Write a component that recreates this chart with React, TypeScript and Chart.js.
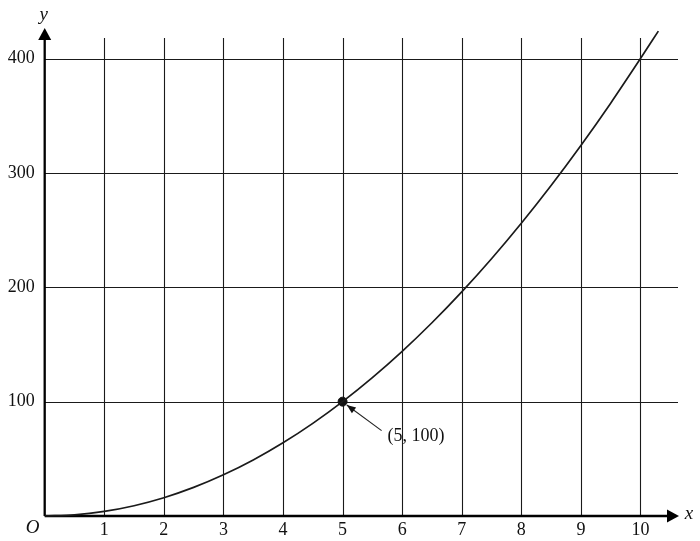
import React, { useRef, useEffect } from "react";
import { Chart, registerables, Plugin } from "chart.js";

Chart.register(...registerables);

// curve values
const curveX = [0, 0.5, 1, 1.5, 2, 2.5, 3, 3.5, 4, 4.5, 5, 5.5, 6, 6.5, 7, 7.5, 8, 8.5, 9, 9.5, 10, 10.3];
const curveY = [0, 1, 4, 9, 16, 25, 36, 49, 64, 81, 100, 121, 144, 169, 196, 225, 256, 289, 324, 361, 400, 424];

const xTicks = [1, 2, 3, 4, 5, 6, 7, 8, 9, 10];
const yTicks = [100, 200, 300, 400];

const markedPoint = { x: 5, y: 100 };
const markedLabel = "(5, 100)";

const FONT = "Liberation Serif, Times New Roman, serif";

const axesPlugin: Plugin<"line"> = {
  id: "axesPlugin",
  beforeDatasetsDraw(chart) {
    const { ctx, chartArea, scales } = chart;
    const xs = scales.x;
    const ys = scales.y;
    const x0 = xs.getPixelForValue(0);
    const y0 = ys.getPixelForValue(0);

    ctx.save();
    // grid
    ctx.strokeStyle = "#1a1a1a";
    ctx.lineWidth = 1.1;
    xTicks.forEach((v) => {
      const px = Math.round(xs.getPixelForValue(v)) + 0.5;
      ctx.beginPath();
      ctx.moveTo(px, y0);
      ctx.lineTo(px, chartArea.top);
      ctx.stroke();
    });
    yTicks.forEach((v) => {
      const py = Math.round(ys.getPixelForValue(v)) + 0.5;
      ctx.beginPath();
      ctx.moveTo(x0, py);
      ctx.lineTo(chartArea.right, py);
      ctx.stroke();
    });

    // axes
    ctx.strokeStyle = "#000";
    ctx.fillStyle = "#000";
    ctx.lineWidth = 2.3;
    ctx.beginPath();
    ctx.moveTo(x0, y0);
    ctx.lineTo(x0, chartArea.top - 2);
    ctx.moveTo(x0, y0);
    ctx.lineTo(chartArea.right - 8, y0);
    ctx.stroke();

    // arrow heads
    ctx.beginPath();
    ctx.moveTo(x0, chartArea.top - 10);
    ctx.lineTo(x0 - 6.5, chartArea.top + 2);
    ctx.lineTo(x0 + 6.5, chartArea.top + 2);
    ctx.closePath();
    ctx.fill();
    ctx.beginPath();
    ctx.moveTo(chartArea.right + 1, y0);
    ctx.lineTo(chartArea.right - 11, y0 - 6.5);
    ctx.lineTo(chartArea.right - 11, y0 + 6.5);
    ctx.closePath();
    ctx.fill();

    // tick labels
    ctx.fillStyle = "#111";
    ctx.font = `18px ${FONT}`;
    ctx.textBaseline = "middle";
    ctx.textAlign = "center";
    xTicks.forEach((v) => {
      ctx.fillText(String(v), xs.getPixelForValue(v), y0 + 14);
    });
    ctx.textAlign = "right";
    yTicks.forEach((v) => {
      ctx.fillText(String(v), x0 - 10, ys.getPixelForValue(v));
    });

    // axis names
    ctx.font = `italic 19px ${FONT}`;
    ctx.textAlign = "center";
    ctx.fillText("O", x0 - 12, y0 + 12);
    ctx.fillText("y", x0 - 1, chartArea.top - 23);
    ctx.fillText("x", chartArea.right + 11, y0 - 2);
    ctx.restore();
  },
  afterDatasetsDraw(chart) {
    const { ctx, scales } = chart;
    const px = scales.x.getPixelForValue(markedPoint.x);
    const py = scales.y.getPixelForValue(markedPoint.y);
    const sx = px + 39;
    const sy = py + 29;
    const ang = Math.atan2(py - sy, px - sx);
    const tipX = px + 4 * Math.cos(ang + Math.PI) + 1;
    const tipY = py + 4 * Math.sin(ang + Math.PI) + 1;

    ctx.save();
    ctx.strokeStyle = "#222";
    ctx.fillStyle = "#111";
    ctx.lineWidth = 1.1;
    ctx.beginPath();
    ctx.moveTo(sx, sy);
    ctx.lineTo(tipX, tipY);
    ctx.stroke();
    const hl = 9;
    const hw = 3.5;
    const bx = tipX - hl * Math.cos(ang);
    const by = tipY - hl * Math.sin(ang);
    ctx.beginPath();
    ctx.moveTo(tipX, tipY);
    ctx.lineTo(bx + hw * Math.sin(ang), by - hw * Math.cos(ang));
    ctx.lineTo(bx - hw * Math.sin(ang), by + hw * Math.cos(ang));
    ctx.closePath();
    ctx.fill();

    ctx.font = `18px ${FONT}`;
    ctx.textAlign = "left";
    ctx.textBaseline = "middle";
    ctx.fillText(markedLabel, px + 45, py + 35);
    ctx.restore();
  },
};

const App = () => {
  const chartRef = useRef<HTMLCanvasElement>(null);
  const chartInstanceRef = useRef<Chart | null>(null);

  useEffect(() => {
    document.body.style.margin = "0";
    if (!chartRef.current) return;
    const ctx = chartRef.current.getContext("2d");
    if (!ctx) return;

    if (chartInstanceRef.current) {
      chartInstanceRef.current.destroy();
    }

    chartInstanceRef.current = new Chart(ctx, {
      type: "line",
      data: {
        datasets: [
          {
            data: curveX.map((x, i) => ({ x, y: curveY[i] })),
            borderColor: "#1a1a1a",
            borderWidth: 1.7,
            pointRadius: 0,
            cubicInterpolationMode: "monotone",
            fill: false,
            clip: false,
          },
          {
            data: [markedPoint],
            pointRadius: 4.5,
            pointBackgroundColor: "#111",
            pointBorderColor: "#111",
            showLine: false,
            clip: false,
          },
        ],
      },
      options: {
        animation: false,
        responsive: false,
        devicePixelRatio: 1,
        layout: {
          padding: { left: 44.7, right: 22, top: 38, bottom: 25 },
        },
        plugins: {
          legend: { display: false },
          tooltip: { enabled: false },
        },
        scales: {
          x: { type: "linear", min: 0, max: 10.63, display: false },
          y: { type: "linear", min: 0, max: 418, display: false },
        },
      },
      plugins: [axesPlugin],
    });

    return () => {
      if (chartInstanceRef.current) {
        chartInstanceRef.current.destroy();
        chartInstanceRef.current = null;
      }
    };
  }, []);

  return (
    <div style={{ width: 700, height: 541, background: "#fff" }}>
      <canvas ref={chartRef} width={700} height={541} />
    </div>
  );
};

export default App;
